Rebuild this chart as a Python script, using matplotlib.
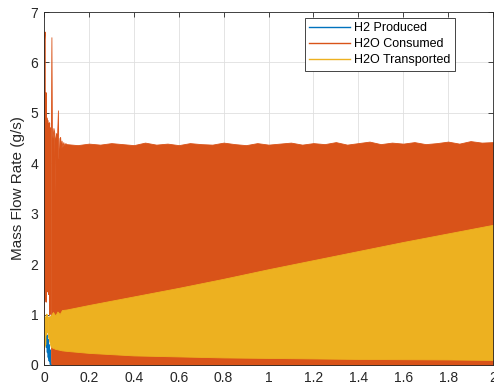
import numpy as np
import matplotlib
matplotlib.use("Agg")
import matplotlib.pyplot as plt

plt.rcParams['font.family'] = ['Liberation Sans', 'DejaVu Sans']

# colores por defecto de MATLAB
c_h2 = '#0072BD'
c_cons = '#D95319'
c_trans = '#EDB120'
c_axis = '#262626'

# --- datos ---
# transitorio inicial (lineas)
h2_t = [0.008, 0.010, 0.012, 0.014, 0.016, 0.018, 0.020, 0.022, 0.024, 0.026, 0.028, 0.030]
h2_v = [0.45, 0.62, 0.35, 0.58, 0.25, 0.50, 0.15, 0.40, 0.08, 0.30, 0.03, 0.0]

cons_early_t = [0.000, 0.002, 0.004, 0.006, 0.008, 0.010, 0.012, 0.014, 0.016, 0.018, 0.020, 0.022, 0.024, 0.026, 0.028, 0.030]
cons_early_v = [0.05, 6.45, 6.60, 1.30, 5.40, 1.25, 4.90, 1.50, 4.85, 1.45, 4.60, 1.40, 4.80, 1.00, 4.70, 1.10]

trans_early_t = [0.000, 0.002, 0.004, 0.006, 0.008, 0.010, 0.012, 0.014, 0.016]
trans_early_v = [0.90, 0.35, 0.95, 0.40, 0.85, 0.60, 1.00, 0.65, 0.95]

# H2O consumido: envolvente superior (banda oscilante, minimo ~0)
cons_peak_t = [0.031, 0.033, 0.035, 0.038, 0.042, 0.046, 0.048, 0.050, 0.054, 0.058, 0.062,
               0.064, 0.066, 0.069, 0.072, 0.075, 0.078, 0.082, 0.086, 0.090, 0.095]
cons_peak_v = [4.60, 6.50, 4.70, 4.50, 4.70, 4.60, 3.40, 4.50, 4.60, 4.50, 5.05,
               4.10, 4.10, 4.50, 4.52, 4.30, 4.45, 4.32, 4.42, 4.35, 4.40]
cons_t = [0.10, 0.15, 0.20, 0.25, 0.30, 0.35, 0.40, 0.45, 0.50, 0.55, 0.60, 0.65, 0.70,
          0.75, 0.80, 0.85, 0.90, 0.95, 1.00, 1.05, 1.10, 1.15, 1.20, 1.25, 1.30, 1.35,
          1.40, 1.45, 1.50, 1.55, 1.60, 1.65, 1.70, 1.75, 1.80, 1.85, 1.90, 1.95, 2.00]
cons_hi = [4.38, 4.36, 4.39, 4.37, 4.40, 4.38, 4.36, 4.41, 4.37, 4.39, 4.36, 4.40, 4.38,
           4.37, 4.41, 4.38, 4.36, 4.40, 4.37, 4.39, 4.41, 4.37, 4.40, 4.38, 4.42, 4.37,
           4.40, 4.43, 4.38, 4.41, 4.39, 4.42, 4.38, 4.40, 4.43, 4.39, 4.44, 4.41, 4.42]
cons_lo = 0.0

# H2O transportado: envolventes
trans_t = [0.016, 0.030, 0.040, 0.050, 0.060, 0.070, 0.080, 0.10, 0.20, 0.40, 0.60, 0.80,
           1.00, 1.20, 1.40, 1.60, 1.80, 2.00]
trans_hi = [0.95, 0.98, 1.05, 0.98, 1.06, 1.01, 1.09, 1.10, 1.19, 1.36, 1.53, 1.71,
            1.90, 2.08, 2.26, 2.44, 2.61, 2.78]
trans_lo = [0.60, 0.36, 0.34, 0.32, 0.31, 0.30, 0.29, 0.28, 0.24, 0.19, 0.17, 0.15,
            0.14, 0.13, 0.12, 0.115, 0.11, 0.10]

xtick_vals = [0, 0.2, 0.4, 0.6, 0.8, 1, 1.2, 1.4, 1.6, 1.8, 2]
xtick_labels = ['0', '0.2', '0.4', '0.6', '0.8', '1', '1.2', '1.4', '1.6', '1.8', '2']
ytick_vals = [0, 1, 2, 3, 4, 5, 6, 7]

# --- figura ---
fig = plt.figure(figsize=(4.94, 3.90), dpi=100)
ax = fig.add_axes([44 / 494, 25 / 390, 449 / 494, 353 / 390])

# H2 producido (debajo de todo)
ax.plot(h2_t, h2_v, color=c_h2, lw=1.2, label='H2 Produced')

# H2O consumido
ax.plot(cons_early_t, cons_early_v, color=c_cons, lw=1.0, label='H2O Consumed')
band_t = np.array(cons_peak_t + cons_t)
band_hi = np.array(cons_peak_v + cons_hi)
ax.fill_between(band_t, cons_lo, band_hi, color=c_cons, lw=0.6, edgecolor=c_cons)

# H2O transportado
ax.plot(trans_early_t, trans_early_v, color=c_trans, lw=1.2, label='H2O Transported')
ax.fill_between(trans_t, trans_lo, trans_hi, color=c_trans, lw=0.6, edgecolor=c_trans)

ax.set_xlim(0, 2)
ax.set_ylim(0, 7)
ax.set_xticks(xtick_vals)
ax.set_xticklabels(xtick_labels)
ax.set_yticks(ytick_vals)

ax.grid(True, color='#dfdfdf', lw=0.6)
ax.set_axisbelow(True)
ax.tick_params(direction='in', length=3.5, width=0.6, top=True, right=True,
               colors=c_axis, labelsize=10, pad=4)
for s in ax.spines.values():
    s.set_color(c_axis)
    s.set_linewidth(0.6)

ax.set_ylabel('Mass Flow Rate (g/s)', fontsize=11, color=c_axis, labelpad=4)

leg = ax.legend(loc='upper right', bbox_to_anchor=(0.915, 0.983), fontsize=9,
                fancybox=False, framealpha=1, edgecolor=c_axis,
                handlelength=3.3, handletextpad=0.3, labelspacing=0.32,
                borderpad=0.35, borderaxespad=0)
leg.get_frame().set_linewidth(0.6)
for ln in leg.get_lines():
    ln.set_linewidth(1.0)

fig.savefig('out.png', dpi=100)
